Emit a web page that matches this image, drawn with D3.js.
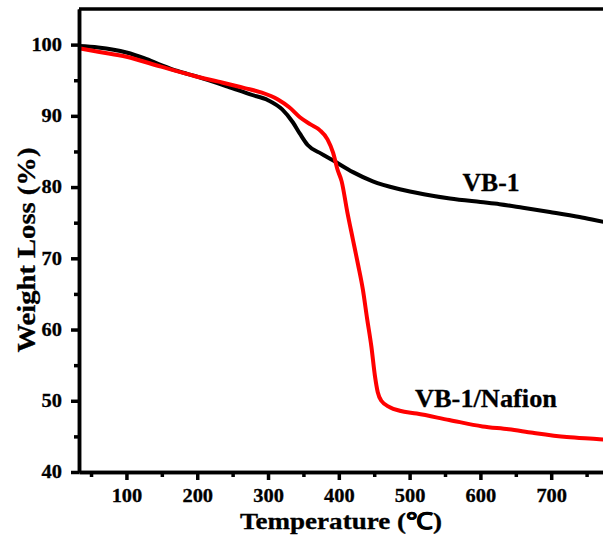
<!DOCTYPE html>
<html><head><meta charset="utf-8">
<script src="https://cdn.jsdelivr.net/npm/d3@7/dist/d3.min.js"></script>
<style>body{margin:0;background:#fff;}svg{display:block;}</style>
</head><body>
<svg id="c" width="603" height="542"></svg>
<script>
const vb1T = [33,60,100,125,150,172,200,243,275,300,320,335,345,356,375,391,420,448,486,520,557,600,627,660,698,740,780,800];
const vb1W = [99.8,99.6,98.9,98.1,97.1,96.3,95.5,94.1,93.0,92.2,90.9,89.1,87.5,85.9,84.7,83.8,82.1,80.8,79.7,79.0,78.4,77.9,77.6,77.1,76.5,75.8,75.0,74.7];
const nafT = [33,60,100,149,196,230,267,290,314,330,345,360,373,384,392,398,404,412,420,427,434,440,446,451,455,460,472,486,510,556,603,640,674,722,768,780,800];
const nafW = [99.5,99.0,98.3,96.9,95.6,94.8,93.9,93.3,92.3,91.2,89.8,88.8,88.0,86.7,84.8,82.5,80.8,76.5,72.6,69.2,65.6,61.5,57.6,53.5,51.2,50.0,49.1,48.6,48.2,47.3,46.4,46.0,45.5,44.9,44.6,44.5,44.3];
const xTicks = [100,200,300,400,500,600,700];
const xMinor = [50,150,250,350,450,550,650,750];
const yTicks = [40,50,60,70,80,90,100];
const yMinor = [45,55,65,75,85,95];
const seriesNames = ["VB-1","VB-1/Nafion"];

const svg = d3.select("#c");
const font = "'Liberation Serif','Times New Roman',serif";
const x = d3.scaleLinear().domain([33, 800]).range([79, 622]);
const y = d3.scaleLinear().domain([40, 105]).range([472, 9]);

const line = d3.line().x(d=>x(d[0])).y(d=>y(d[1])).curve(d3.curveMonotoneX);
svg.append("path").datum(vb1T.map((t,i)=>[t,vb1W[i]]))
  .attr("d", line).attr("fill","none").attr("stroke","#000").attr("stroke-width",4);
svg.append("path").datum(nafT.map((t,i)=>[t,nafW[i]]))
  .attr("d", line).attr("fill","none").attr("stroke","#ff0000").attr("stroke-width",4);

// axes
const xAx = svg.append("g").attr("transform","translate(0,472)")
  .call(d3.axisBottom(x).tickValues(xTicks).tickSize(8).tickPadding(9).tickSizeOuter(0));
const xAxMinor = svg.append("g").attr("transform","translate(0,472)")
  .call(d3.axisBottom(x).tickValues(xMinor).tickSize(5).tickFormat("").tickSizeOuter(0));
const yAx = svg.append("g").attr("transform","translate(79,0)")
  .call(d3.axisLeft(y).tickValues(yTicks).tickSize(8).tickPadding(9).tickSizeOuter(0));
const yAxMinor = svg.append("g").attr("transform","translate(79,0)")
  .call(d3.axisLeft(y).tickValues(yMinor).tickSize(5).tickFormat("").tickSizeOuter(0));
[xAx,xAxMinor,yAx,yAxMinor].forEach(g=>{
  g.select(".domain").attr("stroke","#000").attr("stroke-width",3.5);
  g.selectAll(".tick line").attr("stroke","#000").attr("stroke-width",3.5);
  g.selectAll("text").attr("font-family",font).attr("font-weight","bold").attr("font-size",18)
    .attr("fill","#000").attr("stroke","#000").attr("stroke-width",0.3)
    .attr("textLength", function(){ return this.textContent.length*10.2; })
    .attr("lengthAdjust","spacingAndGlyphs");
});
// top border
svg.append("line").attr("x1",x(33)).attr("x2",603).attr("y1",y(105)).attr("y2",y(105))
  .attr("stroke","#000").attr("stroke-width",3.5);

function boldText(sel){
  return sel.attr("font-family",font).attr("font-weight","bold").attr("fill","#000")
    .attr("stroke","#000").attr("stroke-width",0.3).attr("lengthAdjust","spacingAndGlyphs");
}
// titles
boldText(svg.append("text").attr("x",341).attr("y",529).attr("text-anchor","middle")
  .attr("font-size",23).attr("textLength",202)).text("Temperature (℃)");
boldText(svg.append("text").attr("transform","translate(35,250) rotate(-90)").attr("text-anchor","middle")
  .attr("font-size",25).attr("textLength",205)).text("Weight Loss (%)");

// labels
boldText(svg.append("text").attr("x",491).attr("y",191).attr("text-anchor","middle")
  .attr("font-size",25).attr("textLength",57)).text(seriesNames[0]);
boldText(svg.append("text").attr("x",486).attr("y",407).attr("text-anchor","middle")
  .attr("font-size",25).attr("textLength",142)).text(seriesNames[1]);
</script>
</body></html>
